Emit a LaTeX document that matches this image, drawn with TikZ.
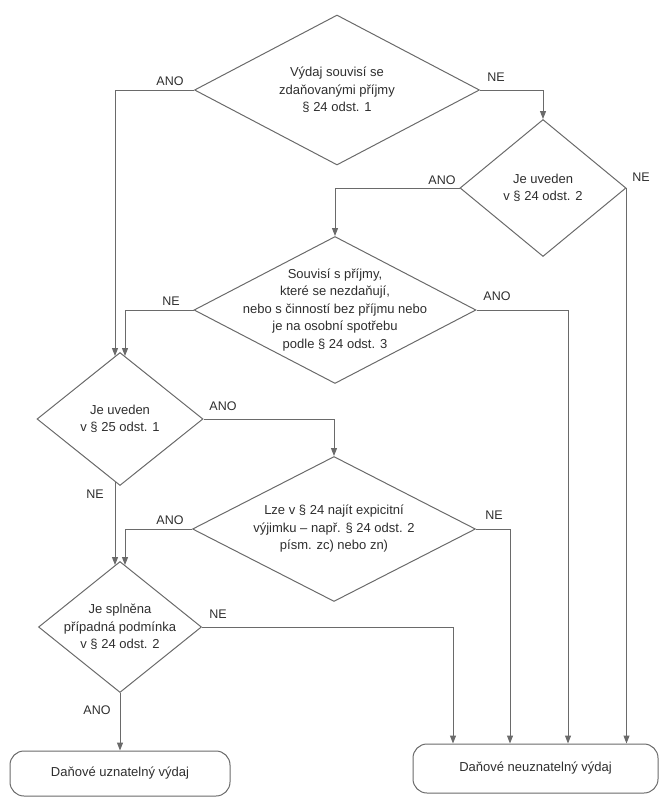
\documentclass[tikz,border=0pt]{standalone}
\usepackage{fontspec}
\setmainfont{Liberation Sans}
\usetikzlibrary{shapes.geometric,arrows.meta,calc}
\definecolor{linec}{HTML}{6A6A6A}
\definecolor{textc}{HTML}{2E2E2E}
\begin{document}
\begin{tikzpicture}[x=1pt,y=-1pt,
  dia/.style={diamond, draw=linec, line width=1pt, inner sep=0pt},
  dtext/.style={align=center, text=textc, inner sep=0pt, font=\fontsize{13}{17.5}\selectfont},
  endbox/.style={draw=linec, line width=1pt, rounded corners=14pt, text=textc, font=\fontsize{13}{16}\selectfont},
  lab/.style={text=textc, inner sep=1pt, font=\fontsize{12.5}{14}\selectfont},
  arr/.style={draw=linec, line width=1pt, -{Triangle[length=8pt,width=6pt]}}]
\useasboundingbox (0,0) rectangle (659,798);

% decision diamonds
\node[dia, minimum width=285pt, minimum height=150pt,
  label={[dtext, name=d1t]center:{Výdaj souvisí se\\zdaňovanými příjmy\\§ 24 odst. 1}}] (d1) at (337,90) {};
\node[dia, minimum width=166pt, minimum height=137pt,
  label={[dtext, name=d2t]center:{Je uveden\\v § 24 odst. 2}}] (d2) at (543,188) {};
\node[dia, minimum width=282pt, minimum height=147pt,
  label={[dtext, name=d3t]center:{Souvisí s příjmy,\\které se nezdaňují,\\nebo s činností bez příjmu nebo\\je na osobní spotřebu\\podle § 24 odst. 3}}] (d3) at (335,310) {};
\node[dia, minimum width=166pt, minimum height=133pt,
  label={[dtext, name=d4t]center:{Je uveden\\v § 25 odst. 1}}] (d4) at (120,419) {};
\node[dia, minimum width=283pt, minimum height=145pt,
  label={[dtext, name=d5t]center:{Lze v § 24 najít expicitní\\výjimku – např. § 24 odst. 2\\písm. zc) nebo zn)}}] (d5) at (334,529) {};
\node[dia, minimum width=163pt, minimum height=131pt,
  label={[dtext, name=d6t]center:{Je splněna\\případná podmínka\\v § 24 odst. 2}}] (d6) at (120,627) {};

% end boxes
\node[endbox, minimum width=220pt, minimum height=45pt] (boxl) at (120,773.5) {Daňové uznatelný výdaj};
\node[endbox, minimum width=245pt, minimum height=49pt] (boxr) at (535.5,768.5) {Daňové neuznatelný výdaj};

% bend points
\coordinate (c3) at (568,310);
\coordinate (c5) at (510,529);
\coordinate (c6) at (453,627);

% connectors
\draw[arr] (d1.west) -| ($(d4.north)+(-5,4)$);
\node[lab] (l1) at (170,81) {ANO};
\draw[arr] (d1.east) -| (d2.north);
\node[lab] (l2) at (496,77) {NE};
\draw[arr] (d2.west) -| (d3.north);
\node[lab] (l3) at (442,180) {ANO};
\draw[arr] (d2.east) -- (d2.east |- boxr.north);
\node[lab] (l4) at (641,177) {NE};
\draw[arr] (d3.east) -- (c3) -- (c3 |- boxr.north);
\node[lab] (l5) at (497,296) {ANO};
\draw[arr] (d3.west) -| ($(d4.north)+(5,4)$);
\node[lab] (l6) at (171,301) {NE};
\draw[arr] (d4.east) -| (d5.north);
\node[lab] (l7) at (223,406) {ANO};
\draw[arr] ($(d4.south)+(-5,-4)$) -- ($(d6.north)+(-5,4)$);
\node[lab] (l8) at (95,494) {NE};
\draw[arr] (d5.west) -| ($(d6.north)+(5,4)$);
\node[lab] (l9) at (170,520) {ANO};
\draw[arr] (d5.east) -- (c5) -- (c5 |- boxr.north);
\node[lab] (l10) at (494,515) {NE};
\draw[arr] (d6.east) -- (c6) -- (c6 |- boxr.north);
\node[lab] (l11) at (218,614) {NE};
\draw[arr] (d6.south) -- (boxl.north);
\node[lab] (l12) at (97,710) {ANO};
\end{tikzpicture}
\end{document}
